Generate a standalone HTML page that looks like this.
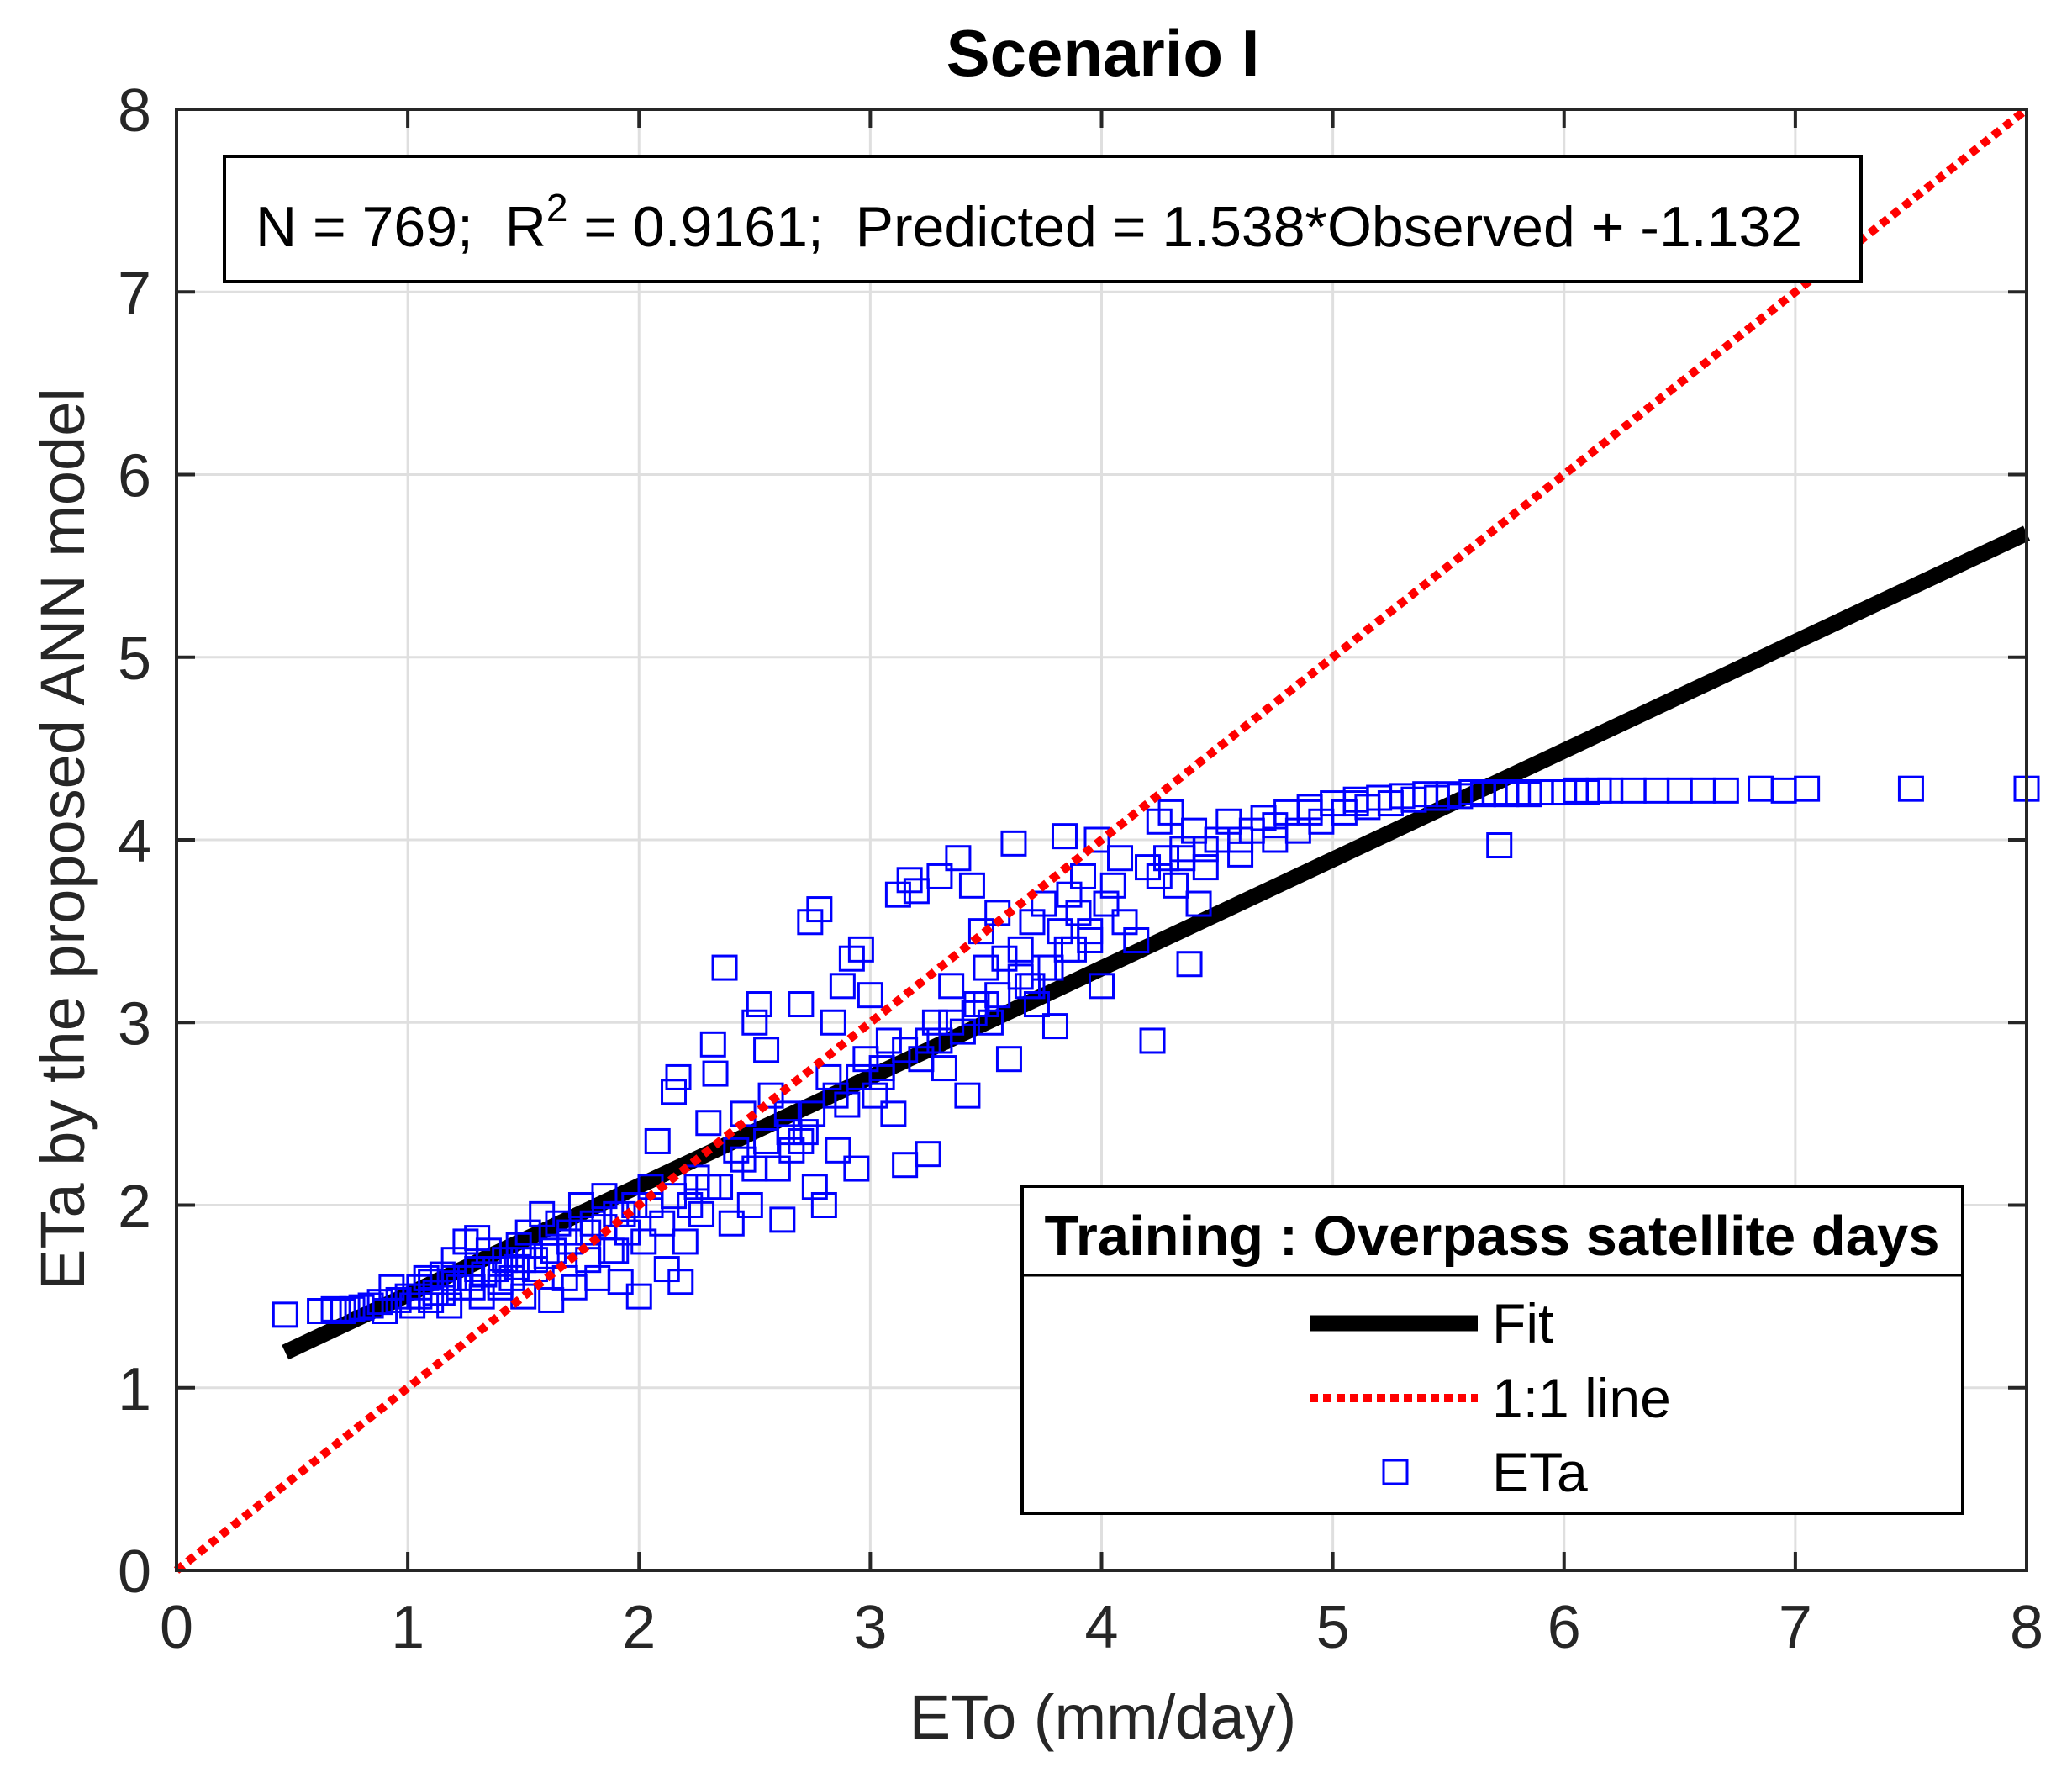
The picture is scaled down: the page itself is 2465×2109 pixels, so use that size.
<!DOCTYPE html>
<html><head><meta charset="utf-8"><style>
html,body{margin:0;padding:0;background:#fff}
svg{display:block}
text{font-family:"Liberation Sans",Arial,sans-serif;white-space:pre}
</style></head><body>
<svg id="chart" width="2465" height="2109" viewBox="0 0 2465 2109" xmlns="http://www.w3.org/2000/svg">
<rect x="0" y="0" width="2465" height="2109" fill="#fff"/>
<g id="grid"></g>
<g id="lines"></g>
<g id="points"></g>
<g id="axes"></g>
<text x="1312" y="90" font-size="78" font-weight="bold" text-anchor="middle">Scenario I</text>
<text x="1312" y="2068" font-size="74" fill="#262626" text-anchor="middle">ETo (mm/day)</text>
<text transform="translate(100,998) rotate(-90)" font-size="74" fill="#262626" text-anchor="middle">ETa by the proposed ANN model</text>
<g>
<rect x="267" y="186" width="1947" height="149" fill="#fff" stroke="#000" stroke-width="4"/>
<text x="304" y="293" font-size="68" xml:space="preserve">N = 769;  R<tspan dy="-30" font-size="46">2</tspan><tspan dy="30"> = 0.9161;  Predicted = 1.538*Observed + -1.132</tspan></text>
</g>
<g>
<rect x="1216" y="1411" width="1119" height="389" fill="#fff" stroke="#000" stroke-width="4"/>
<line x1="1216" y1="1517" x2="2335" y2="1517" stroke="#000" stroke-width="3"/>
<text x="1775" y="1493" font-size="67" font-weight="bold" text-anchor="middle">Training : Overpass satellite days</text>
<line x1="1558" y1="1574" x2="1758" y2="1574" stroke="#000" stroke-width="19"/>
<text x="1775" y="1597" font-size="66">Fit</text>
<line x1="1558" y1="1663" x2="1758" y2="1663" stroke="#f00" stroke-width="10" stroke-dasharray="10 6"/>
<text x="1775" y="1686" font-size="66">1:1 line</text>
<rect x="1646" y="1737" width="28" height="28" fill="none" stroke="#00f" stroke-width="3"/>
<text x="1775" y="1774" font-size="66">ETa</text>
</g>
</svg>
<script>
const xTicks=[0,1,2,3,4,5,6,7,8];
const yTicks=[0,1,2,3,4,5,6,7,8];
const fitSlope=0.5957, fitIntercept=0.914, fitX0=0.47, fitX1=8;
const obsX=[0.47,0.62,0.68,0.72,0.76,0.8,0.84,0.88,0.9,0.93,0.96,1.0,1.02,1.05,1.08,1.1,1.12,1.15,1.18,1.2,1.22,1.25,1.27,1.3,1.32,1.35,1.38,1.4,1.42,1.45,1.48,1.5,1.52,1.55,1.58,1.6,1.62,1.65,1.68,1.7,1.72,1.75,1.78,1.8,1.82,1.85,1.88,1.9,1.92,1.95,1.98,2.0,2.02,2.05,2.08,2.1,2.12,2.15,2.17,2.18,2.2,2.22,2.25,2.27,2.3,2.32,2.33,2.35,2.37,2.4,2.42,2.45,2.48,2.5,2.52,2.55,2.57,2.6,2.62,2.64,2.66,2.7,2.72,2.74,2.76,2.78,2.8,2.82,2.84,2.86,2.88,2.9,2.92,2.94,2.96,2.98,3.0,3.02,3.05,3.08,3.1,3.12,3.15,3.17,3.2,3.22,3.25,3.28,3.3,3.32,3.35,3.38,3.4,3.42,3.44,3.46,3.48,3.5,3.52,3.55,3.58,3.6,3.62,3.65,3.68,3.7,3.72,3.75,3.78,3.8,3.82,3.84,3.86,3.88,3.9,3.92,3.95,3.98,4.0,4.02,4.05,4.08,4.1,4.15,4.2,4.22,4.25,4.28,4.3,4.32,4.35,4.38,4.4,4.42,4.45,4.5,4.55,4.6,4.65,4.7,4.75,4.8,4.85,4.9,4.95,5.0,5.05,5.1,5.15,5.2,5.25,5.3,5.35,5.4,5.45,5.5,5.55,5.6,5.65,5.7,5.72,5.75,5.8,5.85,5.9,5.95,6.0,6.05,6.1,6.15,6.2,6.3,6.4,6.5,6.6,6.7,6.85,6.95,7.05,7.5,8.0,
1.05,1.1,1.15,1.2,1.28,1.33,1.4,1.47,1.55,1.63,1.7,1.78,1.85,1.93,2.05,2.15,2.25,2.45,2.55,2.65,2.75,2.85,2.95,3.05,3.15,3.25,3.35,3.45,3.55,3.65,3.75,3.85,3.95,4.25,4.35,4.45,4.6,4.75,4.9,5.1,1.3,1.5,1.7,1.9,2.3,2.5,2.7,3.3,3.5,3.7];
const obsY=[1.40,1.42,1.43,1.42,1.43,1.44,1.45,1.47,1.42,1.55,1.48,1.5,1.45,1.55,1.6,1.48,1.52,1.62,1.45,1.7,1.55,1.8,1.6,1.82,1.5,1.75,1.65,1.55,1.7,1.6,1.78,1.5,1.85,1.65,1.95,1.72,1.48,1.9,1.6,1.8,1.55,2.0,1.7,1.9,1.6,2.05,1.75,1.95,1.58,1.85,2.0,1.5,1.8,2.1,2.35,1.9,1.65,2.62,2.7,1.58,1.8,2.0,2.15,1.95,2.45,2.88,2.72,2.1,3.3,1.9,2.3,2.5,2.0,3.0,3.1,2.85,2.6,2.2,1.92,2.5,2.3,3.1,2.4,3.55,2.1,3.62,2.0,2.7,3.0,2.3,3.2,2.55,3.35,2.2,3.4,2.8,3.15,2.6,2.7,2.9,2.5,3.7,2.22,3.78,3.72,2.8,2.28,3.0,3.8,2.75,3.2,3.9,2.95,2.6,3.75,3.1,3.5,3.3,3.0,3.6,3.35,2.8,3.98,3.4,3.2,3.55,3.1,3.65,3.3,2.98,3.5,4.02,3.7,3.4,3.6,3.8,3.5,4.0,3.2,3.65,3.75,3.9,3.55,3.45,3.85,2.9,4.1,3.9,4.15,3.75,3.95,3.32,4.05,3.65,3.85,4.0,4.1,3.92,4.05,4.12,4.0,4.15,4.05,4.18,4.1,4.2,4.15,4.22,4.18,4.23,4.2,4.24,4.22,4.25,4.23,4.25,4.24,4.26,4.25,4.26,3.97,4.25,4.26,4.25,4.26,4.26,4.26,4.27,4.26,4.27,4.27,4.27,4.27,4.27,4.27,4.27,4.28,4.27,4.28,4.28,4.28,
1.5,1.58,1.52,1.6,1.55,1.62,1.58,1.66,1.7,1.75,1.8,1.85,1.88,1.95,2.0,2.05,2.1,2.25,2.35,2.4,2.5,2.6,2.7,2.75,2.85,2.9,3.0,3.05,3.15,3.25,3.3,3.4,3.45,3.8,3.9,3.95,4.0,4.08,4.15,4.2,1.65,1.7,1.85,1.75,2.1,2.2,2.35,2.9,3.1,3.2];
const NS="http://www.w3.org/2000/svg";
const L=210,R=2411,T=130,B=1868;
const xs=v=>L+(R-L)*v/8, ys=v=>B-(B-T)*v/8;
function mk(tag,parent,attrs){const e=document.createElementNS(NS,tag);for(const k in attrs)e.setAttribute(k,attrs[k]);parent.appendChild(e);return e;}
const grid=document.getElementById('grid'),axes=document.getElementById('axes'),lines=document.getElementById('lines'),pts=document.getElementById('points');
xTicks.forEach(t=>{
  if(t>0&&t<8){const g=mk('line',grid,{x1:xs(t),x2:xs(t),y1:T,y2:B,stroke:'#dfdfdf','stroke-width':3});
  
  }
  const tk=mk('line',axes,{x1:xs(t),x2:xs(t),y1:B,y2:B-22,stroke:'#262626','stroke-width':4});
  
  
  const tk2=mk('line',axes,{x1:xs(t),x2:xs(t),y1:T,y2:T+22,stroke:'#262626','stroke-width':4});
  
  
  const lb=mk('text',axes,{x:xs(t),y:B+92,'font-size':72,fill:'#262626','text-anchor':'middle'});lb.textContent=t;
  
  
});
yTicks.forEach(t=>{
  if(t>0&&t<8){const g=mk('line',grid,{x1:L,x2:R,y1:ys(t),y2:ys(t),stroke:'#dfdfdf','stroke-width':3});
  
  }
  const tk=mk('line',axes,{x1:L,x2:L+22,y1:ys(t),y2:ys(t),stroke:'#262626','stroke-width':4});
  
  
  const tk2=mk('line',axes,{x1:R,x2:R-22,y1:ys(t),y2:ys(t),stroke:'#262626','stroke-width':4});
  
  
  const lb=mk('text',axes,{x:L-30,y:ys(t)+26,'font-size':72,fill:'#262626','text-anchor':'end'});lb.textContent=t;
  
  
});
const frame=mk('rect',axes,{x:L,y:T,width:R-L,height:B-T,fill:'none',stroke:'#262626','stroke-width':4});


const fit=mk('line',lines,{x1:xs(fitX0),y1:ys(fitSlope*fitX0+fitIntercept),x2:xs(fitX1),y2:ys(fitSlope*fitX1+fitIntercept),stroke:'#000','stroke-width':19});


obsX.forEach((x,i)=>{
  const r=mk('rect',pts,{x:xs(x)-14,y:ys(obsY[i])-14,width:28,height:28,fill:'none',stroke:'#0000ff','stroke-width':3});
  
  
});
const one=mk('line',pts,{x1:xs(0),y1:ys(0),x2:xs(8),y2:ys(8),stroke:'#ff0000','stroke-width':10,'stroke-dasharray':'10 7'});


</script>
</body></html>
